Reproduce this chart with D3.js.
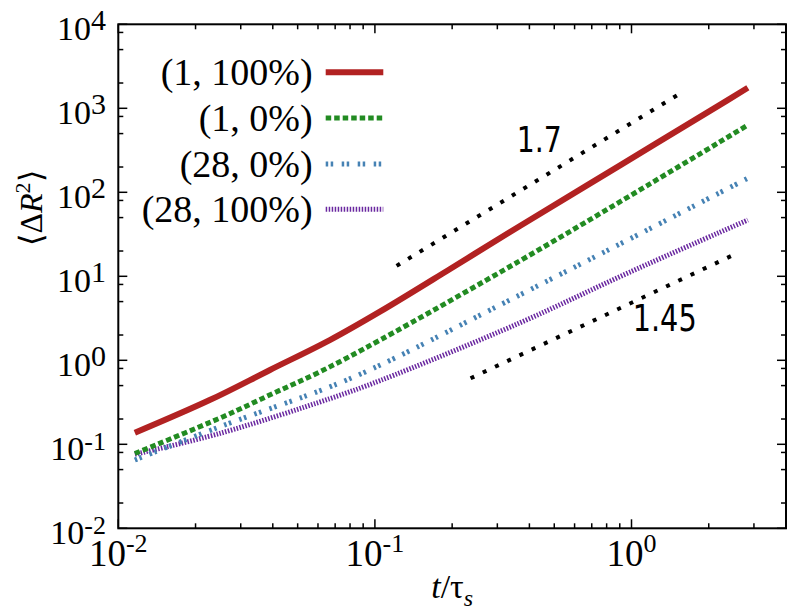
<!DOCTYPE html>
<html>
<head>
<meta charset="utf-8">
<script src="https://cdn.jsdelivr.net/npm/d3@7/dist/d3.min.js"></script>
<style>
  html, body { margin: 0; padding: 0; background: #fff; }
  svg { display: block; }
  text { fill: #000; }
  .serif { font-family: "Liberation Serif", "Times New Roman", Times, serif; }
  .sans { font-family: "DejaVu Sans", sans-serif; }
</style>
</head>
<body>
<svg id="chart" width="789" height="610"></svg>
<script>
// ---------------- data ----------------
const seriesNames = ["(1, 100%)", "(1, 0%)", "(28, 0%)", "(28, 100%)"];

const tRed = [0.0116, 0.0227, 0.039, 0.067, 0.1046, 0.197, 0.366, 0.899, 2.21, 2.84];
const vRed = [0.137, 0.336, 0.767, 1.75, 3.79, 12.3, 39.5, 208, 1100, 1755];

const tGreen = [0.0116, 0.0256, 0.04, 0.0611, 0.105, 0.366, 0.984, 2.84];
const vGreen = [0.0776, 0.213, 0.402, 0.731, 1.75, 15.2, 90.4, 632];

const tBlue = [0.0116, 0.0249, 0.067, 0.105, 0.366, 0.984, 2.84];
const vBlue = [0.065, 0.162, 0.485, 0.879, 5.98, 27.8, 147];

const tPurple = [0.0116, 0.0249, 0.067, 0.105, 0.366, 0.984, 2.84];
const vPurple = [0.076, 0.135, 0.351, 0.575, 2.78, 11.2, 46.8];

const tRefHigh = [0.1215, 1.58];
const vRefHigh = [13.3, 1563];
const tRefLow = [0.236, 2.49];
const vRefLow = [0.611, 17.9];
const refLabels = ["1.7", "1.45"];

const xTickExps = [-2, -1, 0];
const yTickExps = [-2, -1, 0, 1, 2, 3, 4];

// ---------------- setup ----------------
const svg = d3.select("#chart");
const L = 118.3, R = 786, T = 24.3, B = 528.3;
const x = d3.scaleLog().domain([0.01, 4]).range([L, R]);
const y = d3.scaleLog().domain([1e-2, 1e4]).range([B, T]);

// ---------------- ticks ----------------
const tickG = svg.append("g").attr("stroke", "#000").attr("stroke-width", 1.5);
const xMinor = [];
for (let e = -2; e <= 0; e++) for (let m = 2; m <= 9; m++) { const v = m * Math.pow(10, e); if (v <= 4) xMinor.push(v); }
xTickExps.forEach(e => {
  const px = x(Math.pow(10, e));
  tickG.append("line").attr("x1", px).attr("x2", px).attr("y1", B).attr("y2", B - 9);
  tickG.append("line").attr("x1", px).attr("x2", px).attr("y1", T).attr("y2", T + 9);
});
xMinor.forEach(v => {
  const px = x(v);
  tickG.append("line").attr("x1", px).attr("x2", px).attr("y1", B).attr("y2", B - 5);
  tickG.append("line").attr("x1", px).attr("x2", px).attr("y1", T).attr("y2", T + 5);
});
const yMinor = [];
for (let e = -2; e <= 3; e++) [2, 5, 8].forEach(m => yMinor.push(m * Math.pow(10, e)));
yTickExps.forEach(e => {
  const py = y(Math.pow(10, e));
  tickG.append("line").attr("x1", L).attr("x2", L + 9).attr("y1", py).attr("y2", py);
  tickG.append("line").attr("x1", R).attr("x2", R - 9).attr("y1", py).attr("y2", py);
});
yMinor.forEach(v => {
  const py = y(v);
  tickG.append("line").attr("x1", L).attr("x2", L + 5).attr("y1", py).attr("y2", py);
  tickG.append("line").attr("x1", R).attr("x2", R - 5).attr("y1", py).attr("y2", py);
});

svg.append("rect").attr("x", L).attr("y", T).attr("width", R - L).attr("height", B - T)
  .attr("fill", "none").attr("stroke", "#000").attr("stroke-width", 2);

// tick labels
yTickExps.forEach(e => {
  const py = y(Math.pow(10, e));
  const t = svg.append("text").attr("class", "serif").attr("x", 106).attr("y", py + 16)
    .attr("text-anchor", "end").attr("font-size", 34);
  t.append("tspan").text("10");
  t.append("tspan").attr("dy", -10).attr("font-size", e < 0 ? 26 : 30).text(e < 0 ? "-" + (-e) : String(e));
});
xTickExps.forEach(e => {
  const px = x(Math.pow(10, e));
  const t = svg.append("text").attr("class", "serif").attr("x", px).attr("y", 566)
    .attr("text-anchor", "middle").attr("font-size", 37);
  t.append("tspan").text("10");
  t.append("tspan").attr("dy", -14).attr("font-size", 26).text(e < 0 ? "-" + (-e) : String(e));
});

// axis titles
const xt = svg.append("text").attr("class", "serif").attr("x", (L + R) / 2).attr("y", 598)
  .attr("text-anchor", "middle").attr("font-size", 34);
xt.append("tspan").attr("font-style", "italic").text("t");
xt.append("tspan").text("/τ");
xt.append("tspan").attr("dy", 8).attr("font-size", 24).attr("font-style", "italic").text("s");

const yt = svg.append("text").attr("class", "serif").attr("transform", "translate(42,208) rotate(-90)")
  .attr("text-anchor", "middle").attr("font-size", 32);
yt.append("tspan").text("⟨Δ");
yt.append("tspan").attr("font-style", "italic").text("R");
yt.append("tspan").attr("dy", -12).attr("font-size", 22).text("2");
yt.append("tspan").attr("dy", 12).text("⟩");

// ---------------- lines ----------------
const styles = [
  { t: tRed, v: vRed, color: "#b22222", width: 6, dash: null },
  { t: tGreen, v: vGreen, color: "#228b22", width: 5, dash: "5.5,3" },
  { t: tBlue, v: vBlue, color: "#4682b4", width: 5, dash: "2.5,2.5,2.5,8.5" },
  { t: tPurple, v: vPurple, color: "#6a28a0", width: 5, dash: "1.5,1.5" }
];
const line = d3.line().x(d => x(d[0])).y(d => y(d[1])).curve(d3.curveCatmullRom.alpha(0.5));

[[tRefHigh, vRefHigh], [tRefLow, vRefLow]].forEach(([ts, vs]) => {
  svg.append("path").datum(ts.map((t, i) => [t, vs[i]]))
    .attr("d", line).attr("fill", "none").attr("stroke", "#000")
    .attr("stroke-width", 4).attr("stroke-dasharray", "4,9.5");
});

styles.slice().reverse().forEach(s => {
  svg.append("path").datum(s.t.map((t, i) => [t, s.v[i]]))
    .attr("d", line).attr("fill", "none").attr("stroke", s.color)
    .attr("stroke-width", s.width).attr("stroke-dasharray", s.dash);
});

svg.append("text").attr("class", "sans").attr("x", 516.7).attr("y", 151.7)
  .attr("font-size", 36).attr("textLength", 45).attr("lengthAdjust", "spacingAndGlyphs").text(refLabels[0]);
svg.append("text").attr("class", "sans").attr("x", 632.7).attr("y", 331)
  .attr("font-size", 37).attr("textLength", 64).attr("lengthAdjust", "spacingAndGlyphs").text(refLabels[1]);

// ---------------- legend ----------------
const legY = [72.3, 118, 164, 209.3];
seriesNames.forEach((name, i) => {
  svg.append("text").attr("class", "serif").attr("x", 312.7).attr("y", legY[i] + 12.5).attr("text-anchor", "end")
    .attr("font-size", 38).text(name);
  svg.append("line").attr("x1", 325.7).attr("x2", 383.3).attr("y1", legY[i]).attr("y2", legY[i])
    .attr("stroke", styles[i].color).attr("stroke-width", styles[i].width)
    .attr("stroke-dasharray", styles[i].dash);
});
</script>
</body>
</html>
